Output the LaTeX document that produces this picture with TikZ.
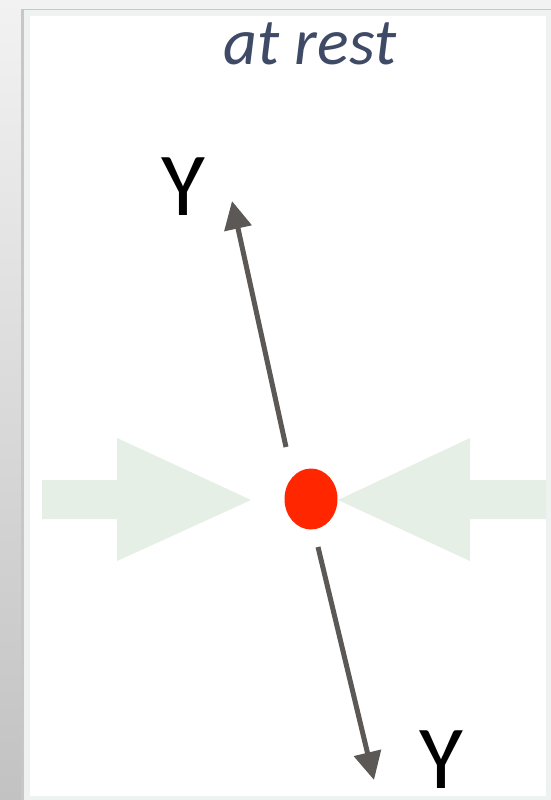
\documentclass[tikz,border=0pt]{standalone}
\usepackage{fontspec}
\setmainfont{Carlito}
\usetikzlibrary{arrows.meta,shapes.geometric}
\definecolor{bgtop}{HTML}{F2F2F2}
\definecolor{bgbot}{HTML}{C2C2C2}
\definecolor{panelrim}{HTML}{EEF3F1}
\definecolor{titlecol}{HTML}{3E4A66}
\definecolor{arrowgray}{HTML}{5C5856}
\definecolor{pushgreen}{HTML}{E5EFE6}
\definecolor{dotred}{HTML}{FF2600}
\begin{document}
\begin{tikzpicture}[x=1pt,y=-1pt,
  vec/.style={draw=arrowgray,line width=5pt,-{Triangle[length=28pt,width=27pt]}},
  push/.style={fill=pushgreen},
  ylabel/.style={inner sep=0pt,anchor=base,text depth=0pt,text height=58pt,font=\fontsize{90}{90}\selectfont,text=black},
  title/.style={inner sep=0pt,anchor=base,font=\fontsize{66}{66}\selectfont\itshape,text=titlecol}]
\useasboundingbox (0,0) rectangle (551,800);
\shade[top color=bgtop,bottom color=bgbot] (0,0) rectangle (551,800);
\fill[black!22] (21,9) rectangle (551,800);
\fill[panelrim] (24,10) rectangle (551,800);
\fill[white] (30,16) rectangle (546,796);
% title
\node[title] (ttl) at (310,64) {at rest};
% compression arrows
\fill[push] (42,480) -- (117,480) -- (117,438) -- (251,500) -- (117,561) -- (117,519) -- (42,519) -- cycle;
\fill[push] (546,480) -- (470,480) -- (470,438) -- (338,500) -- (470,561) -- (470,519) -- (546,519) -- cycle;
% particle
\node[ellipse,fill=dotred,minimum width=53pt,minimum height=61pt,inner sep=0pt] (dot) at (311,499) {};
% Y vectors
\coordinate (upS) at (286,447);
\coordinate (upT) at (232,201);
\coordinate (dnS) at (318,547);
\coordinate (dnT) at (374,780);
\draw[vec] (upS) -- (upT);
\draw[vec] (dnS) -- (dnT);
\node[ylabel] (ytop) at (183,215) {Y};
\node[ylabel] (ybot) at (441,788) {Y};
\end{tikzpicture}
\end{document}
